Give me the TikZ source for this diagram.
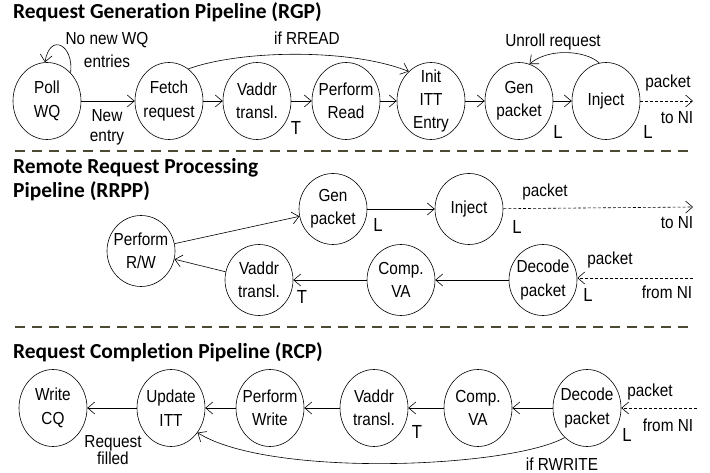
\documentclass[tikz,border=0pt]{standalone}
\usepackage{fontspec}
\setmainfont{Liberation Sans}
\newfontfamily\nodefont[FakeStretch=0.88]{Liberation Sans}
\newfontfamily\headfont[Ligatures=NoCommon]{Carlito}
\usepackage{tikz}
\usetikzlibrary{arrows.meta, positioning, shapes.geometric}
\definecolor{sepcolor}{HTML}{4D4A33}

\begin{document}
\begin{tikzpicture}[x=1bp, y=-1bp,
  stage/.style={draw, line width=0.6bp, ellipse, minimum width=68bp, minimum height=77bp,
                inner xsep=-10bp, inner ysep=-8bp, align=center,
                font=\nodefont\fontsize{17.5}{23.5}\selectfont},
  flow/.style={draw, line width=0.6bp, -{Straight Barb[length=7bp,width=12bp]}},
  wire/.style={flow, densely dashed},
  note/.style={align=center, inner sep=0pt, font=\nodefont\fontsize{17.5}{23}\selectfont},
  tag/.style={inner sep=0pt, font=\nodefont\fontsize{19}{20}\selectfont},
  heading/.style={anchor=west, align=left, inner sep=0pt,
                  font=\headfont\bfseries\fontsize{21.5}{24}\selectfont},
  divider/.style={draw=sepcolor, line width=1.6bp, dash pattern=on 10bp off 7bp},
]
  \useasboundingbox (0,0) rectangle (710,473);

  % Headings and dividers
  \node[heading] (hRGP) at (13,12) {Request Generation Pipeline (RGP)};
  \node[heading] (hRRPP) at (13,180) {Remote Request Processing\\Pipeline (RRPP)};
  \node[heading] (hRCP) at (13,352) {Request Completion Pipeline (RCP)};
  \draw[divider] (15,151) -- (688,151);
  \draw[divider] (15,327) -- (688,327);

  % RGP stages
  \node[stage] (poll) at (47,101) {Poll\\WQ};
  \node[stage] (fetch) at (169,101) {Fetch\\request};
  \node[stage] (vaddrA) at (257,101) {Vaddr\\transl.};
  \node[stage] (readA) at (346,101) {Perform\\Read};
  \node[stage] (itt) at (431,101) {Init\\ITT\\Entry};
  \node[stage] (genA) at (519,101) {Gen\\packet};
  \node[stage] (injA) at (606,101) {Inject};
  \coordinate (outA) at (693,101);

  % RGP labels
  \node[note] (noWQ) at (107,50) {No new WQ\\entries};
  \node[note, font=\nodefont\fontsize{17.5}{20}\selectfont] (newEntry) at (107,127) {New\\entry};
  \node[note] (ifRead) at (307,38) {if RREAD};
  \node[note] (unroll) at (553,42) {Unroll request};
  \node[note] (pktA) at (668,83) {packet};
  \node[note] (niA) at (677,118) {to NI};
  \node[tag] (tA) at (296,128) {T};
  \node[tag] (lGenA) at (558,132) {L};
  \node[tag] (lInjA) at (648,132) {L};

  % RGP connectors
  \draw[flow] (poll.50) .. controls (74,45) and (50,32) .. (poll.93);
  \draw[flow] (poll) -- (fetch);
  \draw[flow] (fetch) -- (vaddrA);
  \draw[flow] (vaddrA) -- (readA);
  \draw[flow] (readA) -- (itt);
  \draw[flow] (itt) -- (genA);
  \draw[flow] (genA) -- (injA);
  \draw[wire] (injA) -- (outA);
  \draw[flow] (fetch.59) .. controls (240,50) and (350,48) .. (itt.127);
  \draw[flow] (injA.100) .. controls (585,50) and (548,48) .. (genA.74);

  % RRPP stages
  \node[stage, minimum height=71bp] (prw) at (141,251) {Perform\\R/W};
  \node[stage, minimum height=71bp] (genB) at (333,209) {Gen\\packet};
  \node[stage, minimum height=71bp] (injB) at (469,209) {Inject};
  \node[stage, minimum height=71bp] (vaddrB) at (259,280) {Vaddr\\transl.};
  \node[stage, minimum height=71bp] (compB) at (401,280) {Comp.\\VA};
  \node[stage, minimum height=71bp] (decB) at (543,280) {Decode\\packet};
  \coordinate (outB) at (693,207);
  \coordinate (inB) at (693,278);

  % RRPP labels
  \node[tag] (lGenB) at (378,225) {L};
  \node[tag] (lInjB) at (517,227) {L};
  \node[note] (pktB) at (545,192) {packet};
  \node[note] (niB) at (677,223) {to NI};
  \node[note] (pktB2) at (610,260) {packet};
  \node[note] (fromB) at (667,292) {from NI};
  \node[tag] (lDecB) at (588,295) {L};
  \node[tag] (tB) at (302,297) {T};

  % RRPP connectors
  \draw[flow] (prw) -- (genB);
  \draw[flow] (genB) -- (injB);
  \draw[wire] (injB) -- (outB);
  \draw[wire] (inB) -- (decB.east |- inB);
  \draw[flow] (decB) -- (compB);
  \draw[flow] (compB) -- (vaddrB);
  \draw[flow] (vaddrB) -- (prw);

  % RCP stages
  \node[stage] (wcq) at (53,408) {Write\\CQ};
  \node[stage] (uitt) at (171,408) {Update\\ITT};
  \node[stage] (pw) at (270,408) {Perform\\Write};
  \node[stage] (vaddrC) at (374,408) {Vaddr\\transl.};
  \node[stage] (compC) at (478,408) {Comp.\\VA};
  \node[stage] (decC) at (587,408) {Decode\\packet};
  \coordinate (inC) at (697,408);

  % RCP labels
  \node[note, font=\nodefont\fontsize{17.5}{16}\selectfont] (filled) at (113,450) {Request\\filled};
  \node[note] (pktC) at (650,392) {packet};
  \node[note] (fromC) at (668,425) {from NI};
  \node[tag] (lDecC) at (627,435) {L};
  \node[tag] (tC) at (417,432) {T};
  \node[note] (ifWrite) at (562,464) {if RWRITE};

  % RCP connectors
  \draw[wire] (inC) -- (decC);
  \draw[flow] (decC) -- (compC);
  \draw[flow] (compC) -- (vaddrC);
  \draw[flow] (vaddrC) -- (pw);
  \draw[flow] (pw) -- (uitt);
  \draw[flow] (uitt) -- (wcq);
  \draw[flow] (decC.233) .. controls (510,468) and (270,478) .. (uitt.317);
\end{tikzpicture}
\end{document}
